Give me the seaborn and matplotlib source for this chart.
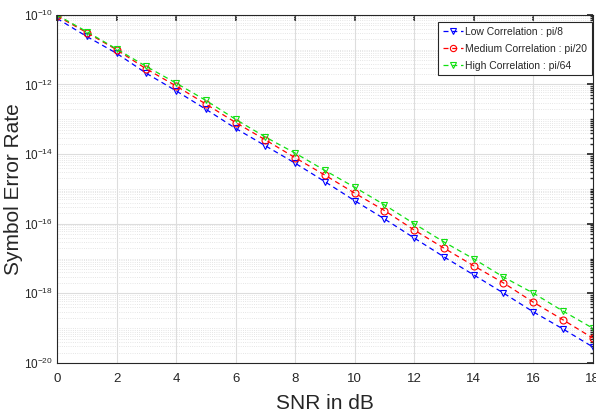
import numpy as np
import pandas as pd
import matplotlib
matplotlib.use("Agg")
import matplotlib.pyplot as plt
import seaborn as sns
from matplotlib.ticker import LogLocator, FixedLocator, LogFormatterMathtext, NullFormatter

snr_db = [0, 1, 2, 3, 4, 5, 6, 7, 8, 9, 10, 11, 12, 13, 14, 15, 16, 17, 18]

ser_low = [7.9e-11, 2.4e-11, 7.9e-12, 2.1e-12, 6.6e-13, 1.95e-13, 5.5e-14, 1.74e-14,
           5.5e-15, 1.62e-15, 4.6e-16, 1.38e-16, 3.9e-17, 1.12e-17, 3.4e-18, 1.02e-18,
           2.95e-19, 9.5e-20, 2.9e-20]
ser_medium = [9.3e-11, 3.1e-11, 1.0e-11, 2.8e-12, 9.1e-13, 2.75e-13, 8.1e-14, 2.57e-14,
              7.9e-15, 2.5e-15, 7.6e-16, 2.4e-16, 6.6e-17, 2.0e-17, 6.2e-18, 2.0e-18,
              5.6e-19, 1.74e-19, 5.2e-20]
ser_high = [9.9e-11, 3.3e-11, 1.05e-11, 3.3e-12, 1.1e-12, 3.5e-13, 1.0e-13, 3.1e-14,
            1.07e-14, 3.4e-15, 1.12e-15, 3.5e-16, 1.0e-16, 3.0e-17, 9.8e-18, 2.95e-18,
            1.02e-18, 3.1e-19, 1.0e-19]

labels = ["Low Correlation : pi/8", "Medium Correlation : pi/20", "High Correlation : pi/64"]
colors = ["#0000ff", "#ff0000", "#11e011"]
markers = ["v", "o", "v"]

sns.set_theme(style="white")
plt.rcParams['font.family'] = ['Liberation Sans', 'DejaVu Sans']
plt.rcParams['mathtext.fontset'] = 'custom'
plt.rcParams['mathtext.rm'] = 'Liberation Sans'
plt.rcParams['mathtext.it'] = 'Liberation Sans'
plt.rcParams['mathtext.default'] = 'regular'

fig = plt.figure(figsize=(5.96, 4.13), dpi=100)
ax = fig.add_axes([0.0956, 0.121, 0.899, 0.843])

series = [ser_low, ser_medium, ser_high]
for vals, lab, col, mk in zip(series, labels, colors, markers):
    df = pd.DataFrame({"snr": snr_db, "ser": vals})
    sns.lineplot(data=df, x="snr", y="ser", ax=ax, color=col, marker=mk,
                 linestyle=(0, (4, 3)), linewidth=0.9, markersize=5,
                 markerfacecolor="none", markeredgecolor=col, markeredgewidth=0.8,
                 label=lab)

ax.set_yscale("log")
ax.set_xlim(0, 18)
ax.set_ylim(1e-20, 1e-10)
ax.xaxis.set_major_locator(FixedLocator([0, 2, 4, 6, 8, 10, 12, 14, 16, 18]))
ax.yaxis.set_major_locator(FixedLocator([1e-20, 1e-18, 1e-16, 1e-14, 1e-12, 1e-10]))
ax.yaxis.set_major_formatter(LogFormatterMathtext())
ax.yaxis.set_minor_locator(LogLocator(base=10, subs=np.arange(1, 10), numticks=100))
ax.yaxis.set_minor_formatter(NullFormatter())

ax.grid(True, which="major", color="#dddddd", linewidth=0.8, linestyle="-")
ax.grid(True, which="minor", axis="y", color="#dddddd", linewidth=0.6, linestyle=":")
ax.set_axisbelow(True)

for s in ax.spines.values():
    s.set_visible(True)
    s.set_color("#262626")
    s.set_linewidth(0.8)

ax.tick_params(axis="both", which="both", direction="in", top=True, right=True,
               colors="#262626", labelcolor="#262626")
ax.tick_params(which="major", length=4)
ax.tick_params(which="minor", length=2)
ax.tick_params(axis="x", labelsize=9.5, pad=7)
ax.tick_params(axis="y", labelsize=8.5, pad=3)

ax.set_xlabel("SNR in dB", fontsize=15, color="#262626")
ax.xaxis.set_label_coords(0.5, -0.088)
ax.set_ylabel("Symbol Error Rate", fontsize=15, color="#262626")
ax.yaxis.set_label_coords(-0.063, 0.5)

leg = ax.legend(loc="upper right", bbox_to_anchor=(0.998, 0.980), borderaxespad=0,
                fontsize=7.5, frameon=True, fancybox=False,
                edgecolor="#262626", framealpha=1, borderpad=0.45, handlelength=1.9,
                handletextpad=0.2, labelspacing=0.68, markerscale=0.9)
leg.get_frame().set_linewidth(0.8)

fig.savefig("out.png", dpi=100)
